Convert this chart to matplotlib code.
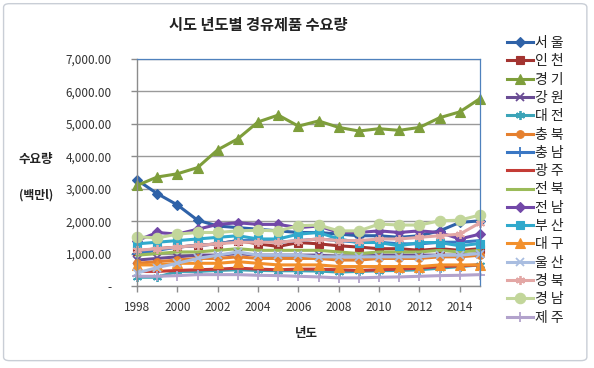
import matplotlib
matplotlib.use("Agg")
import matplotlib.pyplot as plt
from matplotlib.ticker import FuncFormatter, MultipleLocator
from matplotlib.patches import FancyBboxPatch

plt.rcParams['font.family'] = ['Noto Sans CJK KR', 'DejaVu Sans']

years = list(range(1998, 2016))
regions = ['서 울', '인 천', '경 기', '강 원', '대 전', '충 북', '충 남', '광 주',
           '전 북', '전 남', '부 산', '대 구', '울 산', '경 북', '경 남', '제 주']

seoul    = [3270, 2850, 2500, 2030, 1850, 1800, 1750, 1700, 1650, 1650, 1600, 1550, 1550, 1500, 1550, 1700, 1960, 2010]
incheon  = [1080, 1150, 1200, 1250, 1300, 1400, 1300, 1220, 1340, 1300, 1240, 1200, 1150, 1150, 1100, 1150, 1100, 1150]
gyeonggi = [3100, 3360, 3460, 3650, 4200, 4540, 5060, 5270, 4930, 5090, 4890, 4780, 4850, 4800, 4890, 5190, 5370, 5780]
gangwon  = [800, 850, 900, 950, 950, 1000, 950, 950, 950, 950, 900, 900, 950, 950, 950, 950, 950, 1000]
daejeon  = [270, 270, 450, 450, 480, 500, 480, 470, 470, 460, 430, 450, 470, 480, 500, 550, 600, 650]
chungbuk = [700, 750, 800, 850, 850, 900, 850, 850, 850, 850, 800, 800, 850, 850, 850, 900, 900, 950]
chungnam = [1000, 1100, 1200, 1250, 1300, 1400, 1400, 1350, 1400, 1450, 1400, 1350, 1350, 1300, 1300, 1350, 1350, 1400]
gwangju  = [450, 450, 480, 500, 520, 550, 520, 500, 520, 520, 500, 480, 500, 520, 550, 600, 620, 650]
jeonbuk  = [950, 1000, 1050, 1050, 1100, 1150, 1100, 1100, 1100, 1100, 1050, 1000, 1050, 1050, 1050, 1100, 1050, 1100]
jeonnam  = [1400, 1650, 1600, 1750, 1900, 1950, 1900, 1900, 1800, 1850, 1650, 1650, 1700, 1650, 1700, 1650, 1450, 1600]
busan    = [1300, 1350, 1400, 1450, 1500, 1550, 1450, 1450, 1600, 1650, 1450, 1340, 1340, 1240, 1340, 1340, 1240, 1310]
daegu    = [650, 650, 700, 700, 700, 750, 700, 650, 650, 650, 600, 600, 600, 600, 600, 650, 650, 650]
ulsan    = [400, 570, 700, 850, 950, 1050, 950, 950, 950, 900, 900, 900, 900, 900, 900, 950, 950, 1000]
gyeongbuk= [1100, 1150, 1200, 1250, 1300, 1350, 1350, 1350, 1400, 1450, 1400, 1400, 1450, 1450, 1500, 1550, 1600, 1950]
gyeongnam= [1520, 1480, 1600, 1650, 1650, 1700, 1720, 1700, 1860, 1880, 1700, 1700, 1910, 1880, 1880, 2010, 2030, 2190]
jeju     = [300, 300, 320, 350, 350, 350, 330, 320, 300, 280, 250, 250, 270, 280, 300, 320, 330, 350]

series = [seoul, incheon, gyeonggi, gangwon, daejeon, chungbuk, chungnam, gwangju,
          jeonbuk, jeonnam, busan, daegu, ulsan, gyeongbuk, gyeongnam, jeju]

colors = ['#2F62A8', '#A33431', '#7E9E3B', '#6A4C94', '#3BA4B8', '#E5802F', '#3A77C4', '#C43C36',
          '#9BBB59', '#7248A8', '#30A9CC', '#F2902C', '#A9BDE0', '#E3A7A5', '#C2D69A', '#B2A2CC']
ast = (6, 2, 0)
markers = ['D', 's', '^', 'x', ast, 'o', '+', None, None, 'D', 's', '^', 'x', ast, 'o', '+']
msizes = [5, 5.5, 7, 5.5, 6.5, 5.5, 6.5, 0, 0, 5, 5.5, 6.5, 5.5, 6.5, 7.5, 6.5]

fig = plt.figure(figsize=(5.94, 3.68), dpi=100)
fig.patches.append(FancyBboxPatch((0.006, 0.02), 0.982, 0.97, boxstyle="round,pad=0,rounding_size=0.01",
                                  transform=fig.transFigure, fill=False, edgecolor='#C9CED6', linewidth=1.0))
ax = fig.add_axes([137/594, 1-286/368, (480-137)/594, (286-59)/368])

lines = []
for vals, c, m, ms, name in zip(series, colors, markers, msizes, regions):
    l, = ax.plot(years, vals, color=c, lw=2.2, marker=m, markersize=ms,
                 markeredgewidth=1.3 if m in ('x', '+', ast) else 0.8, label=name, clip_on=False)
    lines.append(l)

ax.set_xlim(1998, 2015)
ax.set_ylim(0, 7000)
ax.yaxis.set_major_locator(MultipleLocator(1000))
ax.yaxis.set_major_formatter(FuncFormatter(lambda v, p: '-' if v == 0 else f'{v:,.2f}'))
ax.set_xticks(list(range(1998, 2015, 2)))
ax.grid(axis='y', color='#9A9A9A', lw=1.0)
ax.set_axisbelow(True)
for s in ('top', 'right'):
    ax.spines[s].set_color('#4F81BD')
    ax.spines[s].set_linewidth(0.9)
for s in ('left', 'bottom'):
    ax.spines[s].set_color('#8C8C8C')
    ax.spines[s].set_linewidth(1.0)
ax.tick_params(axis='both', colors='#8C8C8C', labelcolor='#333333', labelsize=8.5, length=4, width=1)
ax.tick_params(axis='y', pad=14)
ax.tick_params(axis='x', pad=7)

fig.text(258/594, 1-25/368, '시도 년도별 경유제품 수요량', ha='center', va='center',
         fontsize=11, fontweight='bold', color='#222222')
fig.text(36/594, 1-160/368, '수요량', ha='center', va='center', fontsize=9, fontweight='bold', color='#222222')
fig.text(36/594, 1-195/368, '(백만l)', ha='center', va='center', fontsize=8.5, fontweight='bold', color='#222222')
fig.text(306/594, 1-334/368, '년도', ha='center', va='center', fontsize=9, fontweight='bold', color='#222222')

leg = fig.legend(handles=lines, loc='upper left', bbox_to_anchor=(507/594, 1-36/368),
                 frameon=False, fontsize=10, handlelength=1.85, handletextpad=0.15,
                 labelspacing=0.31, borderpad=0, borderaxespad=0)
for t in leg.get_texts():
    t.set_color('#222222')

fig.savefig('out.png', dpi=100)
